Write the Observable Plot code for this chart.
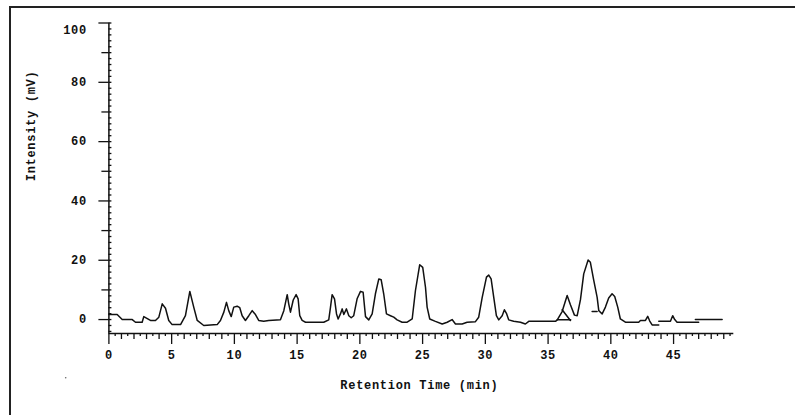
<!DOCTYPE html>
<html><head><meta charset="utf-8">
<script src="https://cdn.jsdelivr.net/npm/d3@7"></script>
<script src="https://cdn.jsdelivr.net/npm/@observablehq/plot@0.6"></script>
<style>
body{margin:0;background:#fff}
#chart{position:relative;width:795px;height:415px}
.chart text{letter-spacing:0.7px}
</style>
</head><body><div id="chart"></div>
<script>
// Main chromatogram trace: retention time (min) and intensity (mV)
const mainTime = [0.0,0.66,1.06,1.86,2.12,2.65,2.78,3.31,3.71,3.98,
4.25,4.51,4.77,5.04,5.71,6.10,6.45,6.76,7.04,7.56,
8.63,8.89,9.16,9.37,9.55,9.75,9.95,10.22,10.43,10.62,
10.88,11.15,11.42,11.68,11.94,12.34,12.74,13.67,13.94,14.21,
14.33,14.47,14.69,14.92,15.08,15.21,15.40,15.67,17.12,17.52,
17.66,17.79,17.98,18.14,18.27,18.45,18.59,18.72,18.93,19.12,
19.31,19.51,19.78,20.05,20.26,20.45,20.71,20.98,21.24,21.51,
21.70,21.90,22.12,22.44,22.70,22.97,23.37,23.77,24.17,24.43,
24.77,25.01,25.23,25.36,25.57,26.02,26.56,26.96,27.35,27.62,
28.15,28.55,29.21,29.47,29.75,30.09,30.27,30.46,30.67,30.88,
31.07,31.34,31.52,31.68,31.86,32.26,32.80,33.19,33.46,35.59,
35.73,36.12,36.52,36.78,37.10,37.32,37.58,37.84,38.19,38.37,
38.64,38.91,39.04,39.31,39.57,39.83,40.10,40.31,40.55,40.76,
41.16,42.22,42.36,42.76,42.94,43.10,43.29,43.82];
const mainIntensity = [1.7,1.7,0,0,-0.9,-0.9,1,-0.3,-0.3,0.8,
5.3,3.8,-0.3,-1.7,-1.7,1.3,9.5,4.2,-0.3,-2,
-1.7,-0.3,2.5,5.8,3,1,4.2,4.5,4,1.3,
-0.3,1.3,3,1.7,-0.3,-0.6,-0.3,-0.1,3,8.4,
5.3,2.5,6.6,8.4,7,1.3,-0.3,-0.9,-0.9,-0.1,
4.2,8.4,7,1.9,0.2,1.9,3.6,1.7,3.6,1.3,
0.6,1.3,7,9.5,9.2,1,-0.1,1.9,8.7,13.7,
13.4,8.7,1.9,1.3,0.8,-0.1,-0.9,-0.9,0.2,9.8,
18.5,17.6,10.9,4.2,0.2,-0.6,-1.5,-0.9,0,-1.5,
-1.5,-0.9,-0.7,0.8,7.5,14.3,15,13.7,7.5,1.3,
-0.1,1.3,3.3,2.1,-0.1,-0.6,-0.9,-1.5,-0.6,-0.6,
-0.1,2.7,8.1,5,1.5,1.3,6.7,15.4,20.1,19.3,
13.2,7.5,3,1.9,4.2,7.3,8.7,7.8,4.2,0.2,
-0.9,-0.9,-0.3,-0.3,1.1,-0.5,-1.8,-1.8];

// Detached trace / baseline pieces
const tailATime = [43.82,44.75,44.93,45.09,45.28,47.00];
const tailAIntensity = [-0.6,-0.6,1.3,0,-0.9,-0.9];
const tailBTime = [46.74,48.87];
const tailBIntensity = [0,0];
const baseATime = [35.73,36.80];
const baseAIntensity = [-0.1,-0.1];
const dropATime = [36.12,36.78];
const dropAIntensity = [3.3,-0.3];
const markATime = [38.51,38.91];
const markAIntensity = [2.7,2.7];

// Axes
const xDomain = [0, 49.8];
const yDomain = [-4.7, 100];
const xTickLabels = [0,5,10,15,20,25,30,35,40,45];
const xMinorTicks = d3.range(1, 50).filter(d => d % 5 !== 0);
const xHalfTicks = d3.range(0.5, 50, 1);
const yTickLabels = [0,20,40,60,80];
const yTopLabel = [100];
const yMidTicks = [10,30,50,70,90];
const yMinorTicks = d3.range(-4, 101, 2);
const yTitle = "Intensity (mV)";
const xTitle = "Retention Time (min)";

const segments = [
  [mainTime, mainIntensity, "main"],
  [tailATime, tailAIntensity, "tailA"],
  [tailBTime, tailBIntensity, "tailB"],
  [baseATime, baseAIntensity, "baseA"],
  [dropATime, dropAIntensity, "dropA"],
  [markATime, markAIntensity, "markA"]
];
const trace = segments.flatMap(([t, v, s]) => t.map((d, i) => ({t: d, v: v[i], s})));

const ink = "#111";
const tickOpts = {tickFormat: () => "", label: null, stroke: ink, strokeWidth: 1.3};
const chart = Plot.plot({
  width: 795, height: 415,
  marginLeft: 108.4, marginRight: 61.7, marginTop: 22.5, marginBottom: 82,
  className: "chart",
  x: {domain: xDomain, axis: null, label: null},
  y: {domain: yDomain, axis: null, label: null},
  style: {background: "#fff", fontFamily: "'Liberation Mono', monospace", fontSize: "12px", fontWeight: "bold", color: ink},
  marks: [
    Plot.ruleX([0], {stroke: ink, strokeWidth: 1.5}),
    Plot.ruleY([-4.7], {stroke: ink, strokeWidth: 1.5}),
    Plot.axisX({anchor: "bottom", ticks: xTickLabels, tickSize: 11, ...tickOpts}),
    Plot.axisX({anchor: "bottom", ticks: xMinorTicks, tickSize: 6, ...tickOpts}),
    Plot.axisX({anchor: "bottom", ticks: xHalfTicks, tickSize: 3, ...tickOpts}),
    Plot.axisY({anchor: "left", ticks: [...yTickLabels, ...yTopLabel], tickSize: 10, ...tickOpts}),
    Plot.axisY({anchor: "left", ticks: yMidTicks, tickSize: 7, ...tickOpts}),
    Plot.axisY({anchor: "left", ticks: yMinorTicks, tickSize: -3, ...tickOpts}),
    Plot.text(xTickLabels, {x: d => d, frameAnchor: "bottom", dy: 25, fill: ink}),
    Plot.text(yTickLabels, {y: d => d, frameAnchor: "left", dx: -22, textAnchor: "end", fill: ink}),
    Plot.text(yTopLabel, {y: d => d, frameAnchor: "left", dx: -22, dy: 7, textAnchor: "end", fill: ink}),
    Plot.text([yTitle], {frameAnchor: "left", dx: -78, dy: 3, rotate: -90, fill: ink}),
    Plot.text([xTitle], {frameAnchor: "bottom", dx: -2, dy: 55, fill: ink}),
    Plot.line(trace, {x: "t", y: "v", z: "s", stroke: ink, strokeWidth: 1.5})
  ]
});
document.getElementById("chart").appendChild(chart);
const svg = d3.select(chart);
svg.append("line").attr("x1", 10).attr("y1", 7).attr("x2", 795).attr("y2", 7).attr("stroke", "#222").attr("stroke-width", 2);
svg.append("line").attr("x1", 10).attr("y1", 6).attr("x2", 10).attr("y2", 415).attr("stroke", "#222").attr("stroke-width", 2);
svg.append("circle").attr("cx", 65.7).attr("cy", 377.7).attr("r", 0.8).attr("fill", "#666");
</script>
</body></html>
